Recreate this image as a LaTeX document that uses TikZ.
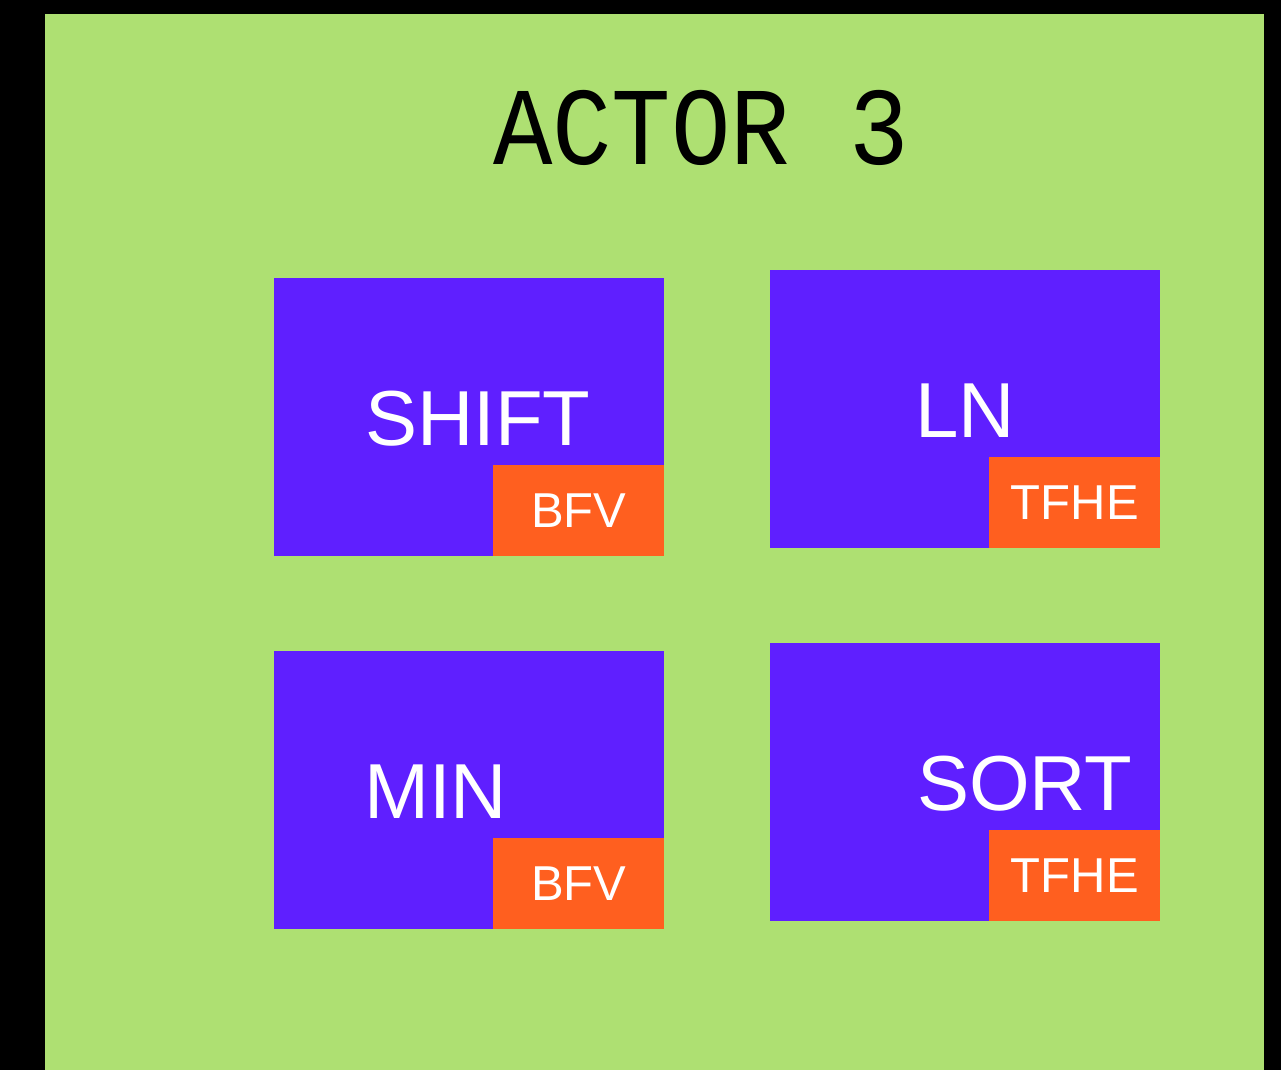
\documentclass[tikz,border=0pt]{standalone}
\usepackage{fontspec}
\setmainfont{Liberation Sans}
\newfontfamily\titlefont{Liberation Mono}
\definecolor{panelgreen}{RGB}{174,224,114}
\definecolor{boxpurple}{RGB}{95,31,255}
\definecolor{tagorange}{RGB}{255,95,31}
\begin{document}
\begin{tikzpicture}[x=1pt,y=-1pt,
  opbox/.style={fill=boxpurple, inner sep=0pt, minimum width=390pt, minimum height=278pt, anchor=north west},
  schemetag/.style={fill=tagorange, inner sep=0pt, minimum width=171pt, minimum height=91pt, anchor=south east,
    text=white, font=\fontsize{49}{49}\selectfont},
  oplabel/.style={anchor=base west, inner sep=0pt, text=white, font=\fontsize{78}{78}\selectfont}]
\useasboundingbox (0,0) rectangle (1281,1070);
\fill[black] (0,0) rectangle (1281,1070);
\fill[panelgreen] (45,14) rectangle (1264,1070);
\node[anchor=base, inner sep=0pt, font=\titlefont\fontsize{99}{99}\selectfont] (title) at (701,164) {\scalebox{1}[1.12]{ACTOR 3}};
% boxes
\node[opbox] (shift) at (274,278) {};
\node[opbox] (ln) at (770,270) {};
\node[opbox] (min) at (274,651) {};
\node[opbox] (sort) at (770,643) {};
% tags
\node[schemetag] (shifttag) at (shift.south east) {BFV};
\node[schemetag] (lntag) at (ln.south east) {TFHE};
\node[schemetag] (mintag) at (min.south east) {BFV};
\node[schemetag] (sorttag) at (sort.south east) {TFHE};
% labels
\node[oplabel] (shiftlbl) at (365,445) {SHIFT};
\node[oplabel] (lnlbl) at (915,437) {LN};
\node[oplabel] (minlbl) at (364,818) {MIN};
\node[oplabel] (sortlbl) at (917,810) {SORT};
\end{tikzpicture}
\end{document}
